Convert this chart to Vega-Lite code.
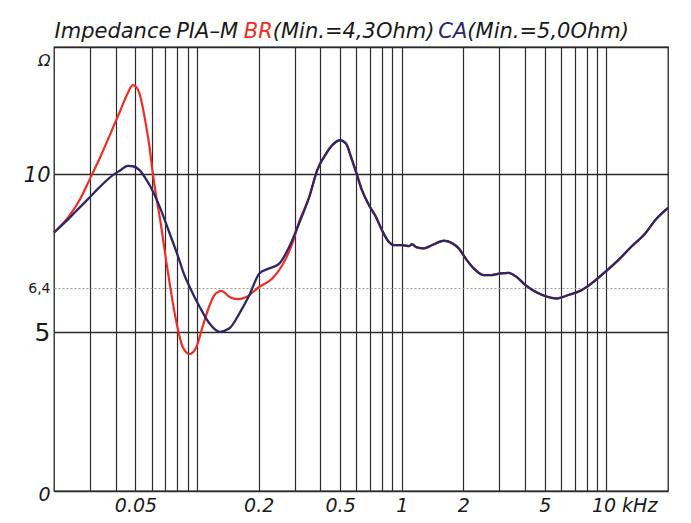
{
  "$schema": "https://vega.github.io/schema/vega-lite/v6.json",
  "width": 614,
  "height": 444,
  "autosize": {"type": "none"},
  "padding": {"left": 54, "top": 47, "right": 23, "bottom": 32},
  "background": "white",
  "config": {"view": {"stroke": "#222222", "strokeWidth": 1.3}},
  "data": {"values": [
    {"s": "BR", "f": 0.02, "z": 8.15}, {"s": "BR", "f": 0.0239, "z": 8.7},
    {"s": "BR", "f": 0.0268, "z": 9.2}, {"s": "BR", "f": 0.03, "z": 9.85}, {"s": "BR", "f": 0.0335, "z": 10.5},
    {"s": "BR", "f": 0.0388, "z": 11.45}, {"s": "BR", "f": 0.0419, "z": 11.95}, {"s": "BR", "f": 0.0459, "z": 12.55},
    {"s": "BR", "f": 0.0485, "z": 12.8}, {"s": "BR", "f": 0.0508, "z": 12.72}, {"s": "BR", "f": 0.0525, "z": 12.5}, {"s": "BR", "f": 0.0561, "z": 11.6},
    {"s": "BR", "f": 0.0587, "z": 10.8}, {"s": "BR", "f": 0.0607, "z": 10.05}, {"s": "BR", "f": 0.0635, "z": 9.2},
    {"s": "BR", "f": 0.0657, "z": 8.64}, {"s": "BR", "f": 0.071, "z": 7.17}, {"s": "BR", "f": 0.0735, "z": 6.54},
    {"s": "BR", "f": 0.0795, "z": 5.28}, {"s": "BR", "f": 0.085, "z": 4.55}, {"s": "BR", "f": 0.0919, "z": 4.32},
    {"s": "BR", "f": 0.0994, "z": 4.55}, {"s": "BR", "f": 0.1064, "z": 5.18}, {"s": "BR", "f": 0.1151, "z": 5.85},
    {"s": "BR", "f": 0.1217, "z": 6.18}, {"s": "BR", "f": 0.1317, "z": 6.31}, {"s": "BR", "f": 0.144, "z": 6.12},
    {"s": "BR", "f": 0.1575, "z": 6.05}, {"s": "BR", "f": 0.1742, "z": 6.12}, {"s": "BR", "f": 0.2016, "z": 6.44},
    {"s": "BR", "f": 0.2332, "z": 6.7}, {"s": "BR", "f": 0.2608, "z": 7.12}, {"s": "BR", "f": 0.2918, "z": 7.8},
    {"s": "BR", "f": 0.3157, "z": 8.5}, {"s": "BR", "f": 0.3532, "z": 9.27}, {"s": "BR", "f": 0.3862, "z": 10.11},
    {"s": "BR", "f": 0.4273, "z": 10.64}, {"s": "BR", "f": 0.4571, "z": 10.9}, {"s": "BR", "f": 0.5, "z": 11.06},
    {"s": "BR", "f": 0.5348, "z": 10.95}, {"s": "BR", "f": 0.5656, "z": 10.53}, {"s": "BR", "f": 0.5982, "z": 10.06},
    {"s": "BR", "f": 0.6398, "z": 9.48}, {"s": "BR", "f": 0.6922, "z": 9.01}, {"s": "BR", "f": 0.7487, "z": 8.64},
    {"s": "BR", "f": 0.801, "z": 8.22}, {"s": "BR", "f": 0.8662, "z": 7.85}, {"s": "BR", "f": 0.9162, "z": 7.75},
    {"s": "BR", "f": 1.0023, "z": 7.75}, {"s": "BR", "f": 1.084, "z": 7.72}, {"s": "BR", "f": 1.121, "z": 7.78},
    {"s": "BR", "f": 1.186, "z": 7.68}, {"s": "BR", "f": 1.283, "z": 7.65}, {"s": "BR", "f": 1.404, "z": 7.75},
    {"s": "BR", "f": 1.605, "z": 7.89}, {"s": "BR", "f": 1.756, "z": 7.82}, {"s": "BR", "f": 1.899, "z": 7.65},
    {"s": "BR", "f": 2.054, "z": 7.33}, {"s": "BR", "f": 2.248, "z": 7.02}, {"s": "BR", "f": 2.514, "z": 6.81},
    {"s": "BR", "f": 2.75, "z": 6.81}, {"s": "BR", "f": 3.042, "z": 6.86}, {"s": "BR", "f": 3.328, "z": 6.88},
    {"s": "BR", "f": 3.64, "z": 6.75}, {"s": "BR", "f": 4.027, "z": 6.49}, {"s": "BR", "f": 4.505, "z": 6.28},
    {"s": "BR", "f": 5.04, "z": 6.14}, {"s": "BR", "f": 5.702, "z": 6.07}, {"s": "BR", "f": 6.522, "z": 6.18},
    {"s": "BR", "f": 7.546, "z": 6.33}, {"s": "BR", "f": 8.44, "z": 6.54}, {"s": "BR", "f": 9.876, "z": 6.91},
    {"s": "BR", "f": 11.43, "z": 7.28}, {"s": "BR", "f": 13.23, "z": 7.7}, {"s": "BR", "f": 15.47, "z": 8.12},
    {"s": "BR", "f": 17.31, "z": 8.54}, {"s": "BR", "f": 20.0, "z": 8.93},

    {"s": "CA", "f": 0.02, "z": 8.15}, {"s": "CA", "f": 0.0239, "z": 8.62}, {"s": "CA", "f": 0.0268, "z": 8.95},
    {"s": "CA", "f": 0.03, "z": 9.27}, {"s": "CA", "f": 0.0335, "z": 9.59}, {"s": "CA", "f": 0.0388, "z": 9.96},
    {"s": "CA", "f": 0.0419, "z": 10.1}, {"s": "CA", "f": 0.0459, "z": 10.25}, {"s": "CA", "f": 0.0485, "z": 10.24},
    {"s": "CA", "f": 0.0525, "z": 10.11}, {"s": "CA", "f": 0.0561, "z": 9.85}, {"s": "CA", "f": 0.0587, "z": 9.64},
    {"s": "CA", "f": 0.0657, "z": 8.96}, {"s": "CA", "f": 0.0735, "z": 8.12}, {"s": "CA", "f": 0.0822, "z": 7.25},
    {"s": "CA", "f": 0.085, "z": 6.96}, {"s": "CA", "f": 0.0919, "z": 6.44}, {"s": "CA", "f": 0.1029, "z": 5.81},
    {"s": "CA", "f": 0.1151, "z": 5.28}, {"s": "CA", "f": 0.1287, "z": 5.02}, {"s": "CA", "f": 0.144, "z": 5.13},
    {"s": "CA", "f": 0.1611, "z": 5.6}, {"s": "CA", "f": 0.1802, "z": 6.18}, {"s": "CA", "f": 0.2016, "z": 6.86},
    {"s": "CA", "f": 0.2255, "z": 7.02}, {"s": "CA", "f": 0.2522, "z": 7.17}, {"s": "CA", "f": 0.2821, "z": 7.7},
    {"s": "CA", "f": 0.3157, "z": 8.45}, {"s": "CA", "f": 0.3532, "z": 9.27}, {"s": "CA", "f": 0.3862, "z": 10.11},
    {"s": "CA", "f": 0.4273, "z": 10.64}, {"s": "CA", "f": 0.4571, "z": 10.9}, {"s": "CA", "f": 0.5, "z": 11.06},
    {"s": "CA", "f": 0.5348, "z": 10.95}, {"s": "CA", "f": 0.5656, "z": 10.53}, {"s": "CA", "f": 0.5982, "z": 10.06},
    {"s": "CA", "f": 0.6398, "z": 9.48}, {"s": "CA", "f": 0.6922, "z": 9.01}, {"s": "CA", "f": 0.7487, "z": 8.64},
    {"s": "CA", "f": 0.801, "z": 8.22}, {"s": "CA", "f": 0.8662, "z": 7.85}, {"s": "CA", "f": 0.9162, "z": 7.75},
    {"s": "CA", "f": 1.0023, "z": 7.75}, {"s": "CA", "f": 1.084, "z": 7.72}, {"s": "CA", "f": 1.121, "z": 7.78},
    {"s": "CA", "f": 1.186, "z": 7.68}, {"s": "CA", "f": 1.283, "z": 7.65}, {"s": "CA", "f": 1.404, "z": 7.75},
    {"s": "CA", "f": 1.605, "z": 7.89}, {"s": "CA", "f": 1.756, "z": 7.82}, {"s": "CA", "f": 1.899, "z": 7.65},
    {"s": "CA", "f": 2.054, "z": 7.33}, {"s": "CA", "f": 2.248, "z": 7.02}, {"s": "CA", "f": 2.514, "z": 6.81},
    {"s": "CA", "f": 2.75, "z": 6.81}, {"s": "CA", "f": 3.042, "z": 6.86}, {"s": "CA", "f": 3.328, "z": 6.88},
    {"s": "CA", "f": 3.64, "z": 6.75}, {"s": "CA", "f": 4.027, "z": 6.49}, {"s": "CA", "f": 4.505, "z": 6.28},
    {"s": "CA", "f": 5.04, "z": 6.14}, {"s": "CA", "f": 5.702, "z": 6.07}, {"s": "CA", "f": 6.522, "z": 6.18},
    {"s": "CA", "f": 7.546, "z": 6.33}, {"s": "CA", "f": 8.44, "z": 6.54}, {"s": "CA", "f": 9.876, "z": 6.91},
    {"s": "CA", "f": 11.43, "z": 7.28}, {"s": "CA", "f": 13.23, "z": 7.7}, {"s": "CA", "f": 15.47, "z": 8.12},
    {"s": "CA", "f": 17.31, "z": 8.54}, {"s": "CA", "f": 20.0, "z": 8.93}
  ]},
  "resolve": {"axis": {"x": "independent", "y": "independent"}},
  "layer": [
    {
      "transform": [{"filter": "datum.s == 'BR'"}],
      "mark": {"type": "line", "interpolate": "monotone", "strokeWidth": 2.2},
      "encoding": {
        "x": {"field": "f", "type": "quantitative",
          "scale": {"type": "log", "domain": [0.02, 20], "nice": false},
          "axis": {
            "orient": "bottom", "title": null,
            "values": [0.03, 0.04, 0.05, 0.06, 0.07, 0.08, 0.09, 0.1, 0.2, 0.3, 0.4, 0.5, 0.6, 0.7, 0.8, 0.9, 1, 2, 3, 4, 5, 6, 7, 8, 9, 10],
            "labelExpr": "datum.value == 0.05 ? '0.05' : datum.value == 0.2 ? '0.2' : datum.value == 0.5 ? '0.5' : datum.value == 1 ? '1' : datum.value == 2 ? '2' : datum.value == 5 ? '5' : datum.value == 10 ? '10 kHz' : ''",
            "grid": true, "gridColor": "#2a2a2a", "gridWidth": 1.2, "gridOpacity": 1,
            "ticks": false, "domain": false,
            "labelFont": "DejaVu Sans", "labelFontSize": 19, "labelFontStyle": "italic", "labelColor": "#1a1a1a",
            "labelPadding": 5, "labelBaseline": "top", "labelOverlap": false, "labelFlush": false, "labelBound": false,
            "labelAlign": {"condition": {"test": "datum.value == 10", "value": "left"}, "value": "center"},
            "labelOffset": {"condition": {"test": "datum.value == 10", "value": -15}, "value": 0}
          }},
        "y": {"field": "z", "type": "quantitative",
          "scale": {"domain": [0, 14], "nice": false},
          "axis": {
            "title": null,
            "values": [0, 5, 6.4, 10, 14],
            "labelExpr": "datum.value == 14 ? 'Ω' : datum.value == 6.4 ? '6,4' : datum.label",
            "grid": true, "gridOpacity": 1,
            "gridColor": {"condition": {"test": "datum.value == 6.4", "value": "#9a9a9a"}, "value": "#2a2a2a"},
            "gridDash": {"condition": {"test": "datum.value == 6.4", "value": [2, 2]}, "value": []},
            "gridWidth": {"condition": {"test": "datum.value == 6.4", "value": 1}, "value": 1.3},
            "ticks": false, "domain": false,
            "labelFont": "DejaVu Sans", "labelColor": "#1a1a1a",
            "labelFontSize": {"condition": [
              {"test": "datum.value == 5", "value": 25},
              {"test": "datum.value == 10", "value": 21},
              {"test": "datum.value == 6.4", "value": 14},
              {"test": "datum.value == 14", "value": 16}], "value": 19},
            "labelFontStyle": {"condition": {"test": "datum.value == 5 || datum.value == 6.4", "value": "normal"}, "value": "italic"},
            "labelOffset": {"condition": [
              {"test": "datum.value == 14", "value": 13},
              {"test": "datum.value == 0", "value": 3},
              {"test": "datum.value == 10", "value": 2}], "value": 0},
            "labelPadding": 4, "labelOverlap": false, "labelFlush": false, "labelBound": false
          }},
        "color": {"field": "s", "type": "nominal",
          "scale": {"domain": ["BR", "CA"], "range": ["#ee2e24", "#2c2868"]}, "legend": null}
      }
    },
    {
      "transform": [{"filter": "datum.s == 'CA'"}],
      "mark": {"type": "line", "interpolate": "monotone", "strokeWidth": 2.3},
      "encoding": {
        "x": {"field": "f", "type": "quantitative",
          "scale": {"type": "log", "domain": [0.02, 20], "nice": false},
          "axis": {
            "orient": "top", "title": null,
            "values": [0.02, 0.0786, 0.233, 0.2331, 2.08, 2.0801],
            "labelExpr": "datum.value == 0.02 ? 'Impedance' : datum.value == 0.0786 ? 'PIA–M' : datum.value == 0.233 ? 'BR' : datum.value == 0.2331 ? '(Min.=4,3Ohm)' : datum.value == 2.08 ? 'CA' : '(Min.=5,0Ohm)'",
            "grid": false, "ticks": false, "domain": false,
            "labelFont": "DejaVu Sans", "labelFontSize": 21, "labelFontStyle": "italic",
            "labelColor": {"condition": [
              {"test": "datum.value == 0.233", "value": "#ee2e24"},
              {"test": "datum.value == 2.08", "value": "#2c2868"}], "value": "#1a1a1a"},
            "labelAlign": {"condition": {"test": "datum.value == 0.233 || datum.value == 2.08", "value": "right"}, "value": "left"},
            "labelBaseline": "alphabetic", "labelPadding": 10, "labelLimit": 500,
            "labelOverlap": false, "labelFlush": false, "labelBound": false
          }},
        "y": {"field": "z", "type": "quantitative", "scale": {"domain": [0, 14], "nice": false}, "axis": null},
        "color": {"field": "s", "type": "nominal",
          "scale": {"domain": ["BR", "CA"], "range": ["#ee2e24", "#2c2868"]}, "legend": null}
      }
    }
  ]
}
